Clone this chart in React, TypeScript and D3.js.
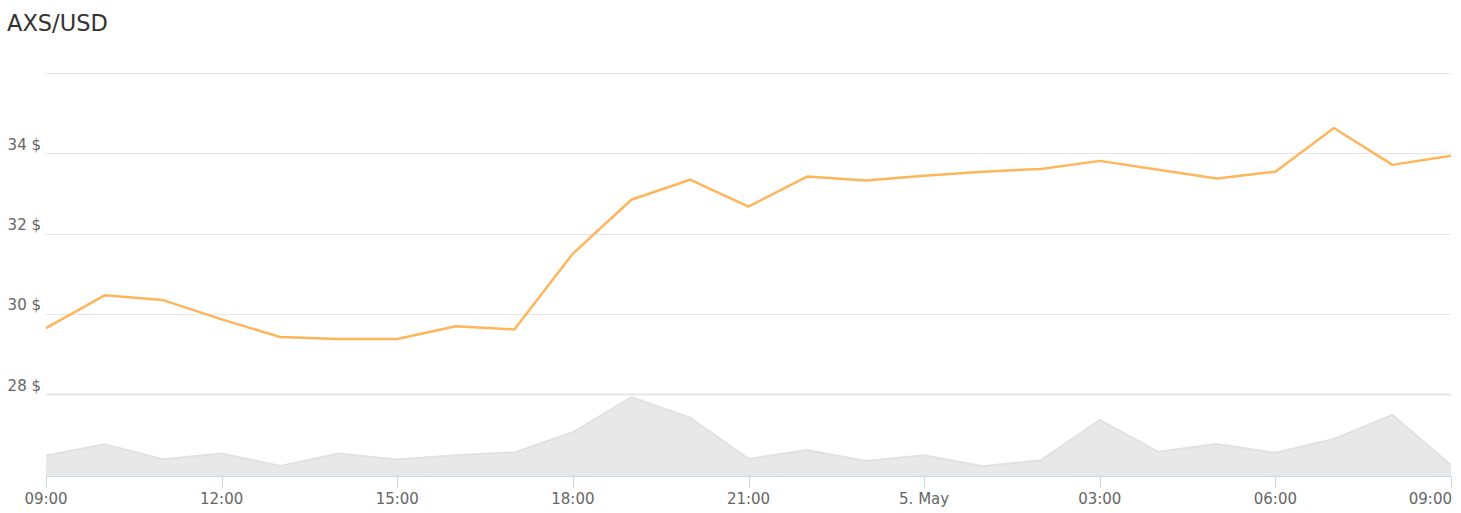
import React from "react";
import * as d3 from "d3";

const title = "AXS/USD";
const startTime = new Date(Date.UTC(2021, 4, 4, 9));
const endTime = new Date(Date.UTC(2021, 4, 5, 9));
const times: Date[] = d3.utcHour.range(startTime, d3.utcHour.offset(endTime, 1));

const prices: number[] = [
  29.64, 30.46, 30.34, 29.86, 29.42, 29.37, 29.37, 29.69, 29.61, 31.5,
  32.84, 33.34, 32.67, 33.42, 33.32, 33.44, 33.54, 33.61, 33.81, 33.59,
  33.37, 33.54, 34.63, 33.71, 33.94,
];

const volumes: number[] = [
  20.4, 31.4, 16.7, 22.4, 10, 22.4, 16.4, 20.7, 23.4, 43.4,
  78.4, 58, 17, 25.7, 15, 20.7, 9.7, 15.7, 55.7, 24,
  31.7, 23, 36.7, 60.7, 10.7,
];

const yTicks: number[] = [28, 30, 32, 34, 36];
const yLabelTicks: number[] = [28, 30, 32, 34];

const W = 1461;
const H = 513;
const FONT = "'DejaVu Sans', Verdana, sans-serif";

export default function App() {
  const x = d3.scaleUtc().domain([startTime, endTime]).range([46, 1451]);
  const y = d3.scaleLinear().domain([28, 36]).range([394, 73]);
  const yv = d3.scaleLinear().domain([0, d3.max(volumes) as number]).range([476, 397]);

  const line = d3
    .line<number>()
    .x((_, i) => x(times[i]))
    .y((d) => y(d));

  const area = d3
    .area<number>()
    .x((_, i) => x(times[i]))
    .y0(476)
    .y1((d) => yv(d));
  const volLine = d3
    .line<number>()
    .x((_, i) => x(times[i]))
    .y((d) => yv(d));

  const xTicks = d3.utcHour.every(3)!.range(startTime, d3.utcHour.offset(endTime, 1));
  const fmt = (d: Date) =>
    d.getUTCHours() === 0 ? `${d.getUTCDate()}. ${d3.utcFormat("%b")(d)}` : d3.utcFormat("%H:%M")(d);

  return (
    <svg width={W} height={H} style={{ position: "absolute", left: 0, top: 0, background: "#fff" }}>
      <text x={7} y={31} fontFamily={FONT} fontSize={22.5} fill="#333">
        {title}
      </text>
      {yTicks.map((t) => (
        <line
          key={t}
          x1={46}
          x2={1451}
          y1={Math.round(y(t)) + 0.5}
          y2={Math.round(y(t)) + 0.5}
          stroke="#e6e6e6"
          strokeWidth={t === 28 ? 2 : 1}
        />
      ))}
      {yLabelTicks.map((t) => (
        <text key={t} x={41} y={y(t) - 3.5} textAnchor="end" fontFamily={FONT} fontSize={15} fill="#666">
          {`${t} $`}
        </text>
      ))}
      <path d={area(volumes) || ""} fill="#e8e8e8" />
      <path d={volLine(volumes) || ""} fill="none" stroke="#e1e1e1" strokeWidth={2} />
      <path d={line(prices) || ""} fill="none" stroke="#ffb55a" strokeWidth={2.5} strokeLinejoin="round" />
      <line x1={46} x2={1451} y1={476.5} y2={476.5} stroke="#ccd6eb" strokeWidth={1} />
      {xTicks.map((t, i) => {
        const xx = Math.round(x(t)) + 0.5;
        const last = i === xTicks.length - 1;
        return (
          <g key={i}>
            <line x1={xx} x2={xx} y1={476} y2={488} stroke="#ccd6eb" strokeWidth={1} />
            <text
              x={last ? 1452 : x(t)}
              y={504}
              textAnchor={last ? "end" : "middle"}
              fontFamily={FONT}
              fontSize={15}
              fill="#666"
            >
              {fmt(t)}
            </text>
          </g>
        );
      })}
    </svg>
  );
}
